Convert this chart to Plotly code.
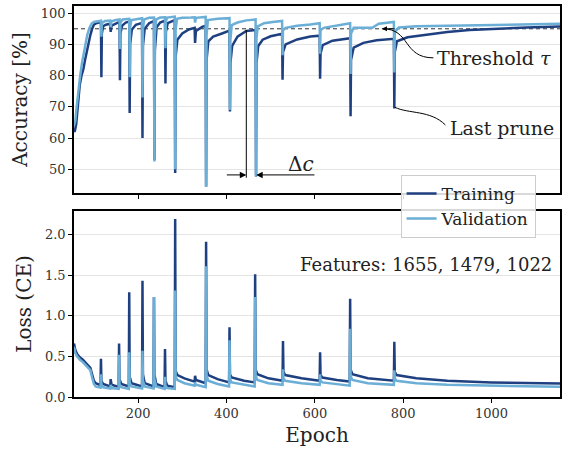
import plotly.graph_objects as go

# ---------------- data ----------------
train_acc_epoch = [55, 57, 60, 64, 68, 72, 76, 80, 84, 88, 92, 96, 100, 105, 110, 116, 117, 118, 121, 127, 137, 138, 140, 150, 158,
                   159, 160, 164, 172, 180, 181, 182, 186, 195, 209, 210, 211, 215, 225, 236, 237, 238, 242, 250, 261,
                   262, 263, 267, 283, 284, 285, 289, 300, 315, 328, 329, 331, 345, 353, 354, 355, 359, 370, 390, 407,
                   408, 409, 413, 425, 445, 466, 467, 468, 472, 482, 500, 526, 527, 528, 534, 560, 590, 611, 612, 613,
                   618, 640, 680, 681, 682, 688, 710, 740, 779, 780, 781, 786, 810, 850, 900, 950, 1000, 1080, 1155]
train_acc = [62.0, 62.3, 64.5, 70.0, 77.0, 80.0, 82.0, 85.0, 88.0, 90.5, 93.0, 95.0, 96.3, 96.8, 97.0, 97.2, 79.5, 93.5, 95.8, 96.3,
             96.6, 94.0, 96.0, 96.8, 97.2, 78.5, 93.5, 96.0, 97.0, 97.3, 68.0, 90.0, 94.8, 96.3, 96.9, 60.0, 89.5, 95.0,
             96.8, 97.5, 53.0, 88.0, 95.5, 97.0, 97.6, 77.5, 94.0, 96.8, 97.8, 48.8, 86.0, 91.5, 93.5, 94.8, 95.3, 90.5,
             94.3, 95.6, 96.0, 44.5, 85.0, 91.0, 92.5, 93.5, 94.4, 68.5, 84.0, 89.5, 92.5, 94.3, 94.6, 48.0, 84.0, 89.5,
             91.5, 92.6, 93.4, 78.7, 87.5, 90.0, 91.6, 92.5, 92.8, 79.0, 87.0, 89.8, 91.2, 92.0, 67.0, 85.0, 89.0, 90.5,
             91.3, 91.8, 69.5, 87.5, 91.0, 92.3, 93.0, 94.0, 94.6, 95.0, 95.4, 95.7]

val_acc_epoch = [55, 58, 61, 65, 69, 73, 77, 81, 85, 90, 95, 100, 108, 116, 117, 118, 125, 137, 138, 140, 150, 158, 159, 160, 165,
                 180, 181, 182, 185, 200, 209, 210, 211, 214, 225, 236, 237, 238, 241, 250, 261, 262, 263, 266, 275, 283,
                 284, 285, 288, 300, 320, 328, 329, 331, 353, 354, 355, 358, 380, 407, 408, 409, 412, 425, 445, 466, 467,
                 468, 471, 485, 505, 526, 527, 528, 534, 560, 590, 611, 612, 613, 620, 650, 680, 681, 682, 688, 730, 745,
                 779, 780, 781, 790, 830, 900, 1000, 1155]
val_acc = [64.0, 65.5, 70.0, 76.0, 80.0, 84.0, 87.5, 90.5, 93.0, 95.3, 96.7, 97.2, 97.4, 97.6, 92.5, 96.8, 97.5, 97.6, 95.5, 97.4,
           97.8, 98.0, 88.5, 97.0, 98.0, 98.2, 79.5, 95.5, 97.8, 98.3, 98.4, 73.0, 95.0, 98.0, 98.5, 98.6, 52.5, 93.0, 98.0,
           98.6, 98.7, 88.8, 97.5, 98.6, 98.8, 98.9, 50.0, 94.5, 98.2, 98.5, 98.6, 98.7, 97.0, 98.5, 98.8, 44.5, 93.0, 97.8,
           98.2, 98.4, 69.0, 91.5, 96.2, 97.0, 97.7, 98.0, 47.5, 92.0, 95.8, 96.8, 97.2, 97.5, 86.5, 94.5, 95.3, 96.0, 96.4,
           96.8, 87.0, 94.5, 95.3, 96.0, 96.8, 80.5, 93.5, 95.3, 95.3, 96.6, 97.2, 81.0, 94.0, 95.4, 95.8, 96.0, 96.2, 96.6]

train_loss_epoch = [55, 58, 62, 68, 75, 82, 88, 92, 96, 100, 104, 110, 115, 116, 117, 121, 137, 138, 140, 156, 157, 158, 162, 179,
                    180, 181, 185, 209, 210, 211, 215, 235, 236, 237, 241, 260, 261, 262, 266, 283, 284, 285, 289, 305,
                    328, 329, 331, 353, 354, 355, 359, 380, 406, 407, 408, 412, 440, 464, 465, 466, 470, 495, 527, 528,
                    529, 533, 570, 611, 612, 613, 617, 650, 679, 680, 681, 685, 720, 779, 780, 781, 785, 830, 900, 1000,
                    1080, 1155]
train_loss = [0.66, 0.58, 0.53, 0.49, 0.46, 0.42, 0.39, 0.36, 0.28, 0.20, 0.17, 0.155, 0.145, 0.47, 0.20, 0.16, 0.13, 0.22, 0.15,
              0.125, 0.66, 0.22, 0.16, 0.13, 1.29, 0.25, 0.17, 0.13, 1.43, 0.28, 0.17, 0.13, 1.23, 0.28, 0.16, 0.12, 0.59,
              0.20, 0.14, 0.12, 2.19, 0.32, 0.27, 0.23, 0.19, 0.26, 0.21, 0.17, 1.91, 0.34, 0.27, 0.22, 0.18, 0.86, 0.28,
              0.24, 0.20, 0.18, 1.51, 0.34, 0.28, 0.23, 0.20, 0.69, 0.31, 0.27, 0.23, 0.20, 0.55, 0.27, 0.24, 0.21, 0.19,
              1.21, 0.34, 0.28, 0.23, 0.20, 0.68, 0.31, 0.27, 0.23, 0.20, 0.18, 0.17, 0.165]

val_loss_epoch = train_loss_epoch
val_loss = [0.62, 0.54, 0.50, 0.46, 0.43, 0.39, 0.36, 0.33, 0.24, 0.16, 0.13, 0.12, 0.115, 0.28, 0.15, 0.12, 0.105, 0.15, 0.11,
            0.10, 0.52, 0.16, 0.12, 0.10, 0.55, 0.18, 0.13, 0.105, 0.57, 0.20, 0.13, 0.105, 1.23, 0.22, 0.13, 0.10, 0.25,
            0.14, 0.11, 0.10, 1.31, 0.25, 0.21, 0.17, 0.14, 0.18, 0.15, 0.12, 1.61, 0.27, 0.20, 0.16, 0.13, 0.70, 0.22,
            0.18, 0.15, 0.13, 1.23, 0.27, 0.21, 0.17, 0.15, 0.34, 0.23, 0.20, 0.17, 0.15, 0.28, 0.20, 0.18, 0.16, 0.14,
            0.84, 0.26, 0.21, 0.17, 0.15, 0.33, 0.23, 0.20, 0.17, 0.15, 0.14, 0.13, 0.125]

threshold = 95
acc_ticks = [50, 60, 70, 80, 90, 100]
loss_ticks = [0.0, 0.5, 1.0, 1.5, 2.0]
epoch_ticks = [200, 400, 600, 800, 1000]
features_text = "Features: 1655, 1479, 1022"

# ---------------- style ----------------
C_TRAIN = "#1f4080"
C_VAL = "#6baed6"
FONT = "DejaVu Serif"
LW = 2.5

fig = go.Figure()
fig.add_trace(go.Scatter(x=train_acc_epoch, y=train_acc, mode="lines", name="Training",
                         line=dict(color=C_TRAIN, width=LW), xaxis="x", yaxis="y"))
fig.add_trace(go.Scatter(x=val_acc_epoch, y=val_acc, mode="lines", name="Validation",
                         line=dict(color=C_VAL, width=LW), xaxis="x", yaxis="y"))
fig.add_trace(go.Scatter(x=train_loss_epoch, y=train_loss, mode="lines", name="Training", showlegend=False,
                         line=dict(color=C_TRAIN, width=LW), xaxis="x2", yaxis="y2"))
fig.add_trace(go.Scatter(x=val_loss_epoch, y=val_loss, mode="lines", name="Validation", showlegend=False,
                         line=dict(color=C_VAL, width=LW), xaxis="x2", yaxis="y2"))

axis_common = dict(showline=True, mirror=True, linecolor="black", linewidth=1.5, ticks="outside",
                   ticklen=4, tickwidth=1.2, tickcolor="black", zeroline=False,
                   tickfont=dict(family=FONT, size=13, color="#333"))

fig.update_layout(
    width=563, height=449,
    margin=dict(l=74, r=1, t=6, b=52),
    paper_bgcolor="white", plot_bgcolor="white",
    font=dict(family=FONT, color="#222"),
    showlegend=True,
    legend=dict(x=0.672, y=0.568, xanchor="left", yanchor="top", tracegroupgap=0,
                entrywidth=150, entrywidthmode="pixels",
                bgcolor="rgba(255,255,255,0.85)", bordercolor="#cccccc", borderwidth=1,
                font=dict(family=FONT, size=17, color="#222")),
    xaxis=dict(domain=[0, 1], anchor="y", range=[55, 1155], tickvals=epoch_ticks, showticklabels=False,
               showgrid=False, **axis_common),
    yaxis=dict(domain=[0.5217, 1], anchor="x", range=[42.4, 102.3], tickvals=acc_ticks,
               showgrid=True, gridcolor="#e4e4e4", gridwidth=1,
               title=dict(text="Accuracy [%]", font=dict(family=FONT, size=20, color="#222"), standoff=8),
               **axis_common),
    xaxis2=dict(domain=[0, 1], anchor="y2", range=[55, 1155], tickvals=epoch_ticks, showgrid=False,
                title=dict(text="Epoch", font=dict(family=FONT, size=20, color="#222"), standoff=8),
                **axis_common),
    yaxis2=dict(domain=[0, 0.4757], anchor="x2", range=[0, 2.29], tickvals=loss_ticks, tickformat=".1f",
                showgrid=True, gridcolor="#e4e4e4", gridwidth=1,
                title=dict(text="Loss (CE)", font=dict(family=FONT, size=20, color="#222"), standoff=8),
                **axis_common),
)

# threshold line
fig.add_shape(type="line", xref="x domain", yref="y", x0=0, x1=1, y0=threshold, y1=threshold,
              line=dict(color="#333", width=1, dash="4px,3px"), layer="below")

# Threshold annotation curve
fig.add_shape(type="path", xref="x", yref="y",
              path="M 753.6,95.0 C 816.7,95.0 798.7,85.7 868.5,85.7",
              line=dict(color="black", width=1))
fig.add_annotation(x=752, y=threshold, xref="x", yref="y", ax=14, ay=0, text="", showarrow=True,
                   arrowhead=2, arrowsize=1, arrowwidth=1, arrowcolor="black")
fig.add_annotation(x=873, y=85.8, xref="x", yref="y", text="Threshold <i>τ</i>", showarrow=False,
                   xanchor="left", yanchor="middle", font=dict(family=FONT, size=19, color="#222"))

# Last prune annotation
fig.add_shape(type="path", xref="x", yref="y",
              path="M 780.6,69.9 C 812.2,67.7 861.8,69.0 895.6,64.2",
              line=dict(color="black", width=1))
fig.add_annotation(x=902, y=63.2, xref="x", yref="y", text="Last prune", showarrow=False,
                   xanchor="left", yanchor="middle", font=dict(family=FONT, size=19, color="#222"))

# Delta c marker
fig.add_shape(type="line", xref="x", yref="y", x0=445, x1=445, y0=94.6, y1=47.3,
              line=dict(color="black", width=1))
fig.add_annotation(x=445, y=48.2, xref="x", yref="y", ax=397.5, ay=48.2, axref="x", ayref="y",
                   text="", showarrow=True, arrowhead=2, arrowsize=1.3, arrowwidth=1, arrowcolor="black")
fig.add_annotation(x=467.4, y=48.2, xref="x", yref="y", ax=602.6, ay=48.2, axref="x", ayref="y",
                   text="", showarrow=True, arrowhead=2, arrowsize=1.3, arrowwidth=1, arrowcolor="black")
fig.add_annotation(x=569, y=51.6, xref="x", yref="y", text="Δ<i>c</i>", showarrow=False,
                   xanchor="center", yanchor="middle", font=dict(family=FONT, size=20, color="#222"))

# features text
fig.add_annotation(x=1141, y=1.63, xref="x2", yref="y2", text=features_text, showarrow=False,
                   xanchor="right", yanchor="middle", font=dict(family=FONT, size=18, color="#222"))

fig.write_html("out.html", config={"displayModeBar": False})

# remove default page margins so the figure fills the window exactly
with open("out.html", "r", encoding="utf-8") as f:
    html = f.read()
html = html.replace("<head>", "<head><style>html,body{margin:0;padding:0;overflow:hidden;}</style>", 1)
with open("out.html", "w", encoding="utf-8") as f:
    f.write(html)
